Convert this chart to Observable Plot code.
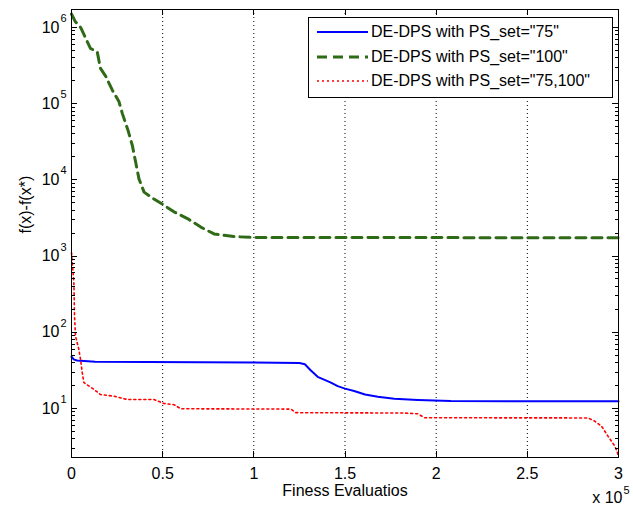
<!DOCTYPE html>
<html>
<head>
<meta charset="utf-8">
<script src="https://cdn.jsdelivr.net/npm/d3@7"></script>
<script src="https://cdn.jsdelivr.net/npm/@observablehq/plot@0.6"></script>
<style>
  html, body { margin: 0; padding: 0; background: #fff; }
</style>
</head>
<body>
<div id="chart"></div>
<script>
// ---- data ----
const seriesNames = ['DE-DPS with PS_set="75"', 'DE-DPS with PS_set="100"', 'DE-DPS with PS_set="75,100"'];

const evals75 = [0, 1200, 3000, 13000, 100000, 125000, 128000, 131000, 135000, 142000, 146000, 150000, 155000, 161000, 168000, 177000, 190000, 208000, 300000];
const f75     = [48, 44, 42.5, 41, 40, 39.5, 38, 32, 26, 22, 19.6, 18.2, 16.9, 15.2, 14.2, 13.4, 12.9, 12.5, 12.4];

const evals100 = [0, 2000, 5000, 10400, 14100, 15900, 18700, 22400, 26000, 27900, 31200, 33400, 35200, 37000, 39800, 45200, 49800, 56200, 63600, 70900, 78200, 89000, 100000, 300000];
const f100     = [1.5e6, 1.2e6, 1.0e6, 5.3e5, 4.8e5, 2.9e5, 2.3e5, 1.5e5, 1.07e5, 7.4e4, 4.3e4, 2.8e4, 1.7e4, 1.03e4, 6.9e3, 5.6e3, 4.8e3, 3.8e3, 3.1e3, 2.4e3, 1.95e3, 1.8e3, 1.75e3, 1.74e3];

const evals75100 = [0, 1300, 1650, 2200, 4000, 4950, 5900, 6800, 12300, 15900, 23200, 30600, 45200, 50700, 56200, 59900, 120300, 123000, 182600, 190000, 193600, 283300, 287000, 290700, 294300, 298000, 299500, 300000];
const f75100     = [1100, 450, 163, 89, 60, 44, 29.5, 21.8, 17.8, 15.2, 14.5, 13.1, 13.1, 11.6, 11.2, 9.9, 9.8, 8.8, 8.7, 8.5, 7.55, 7.5, 6.8, 5.85, 4.3, 3.2, 2.6, 2.3];

const xTicks = [0, 50000, 100000, 150000, 200000, 250000, 300000];
const yDomain = [2.27, 1.72e6];
const yMajor = [10, 100, 1000, 10000, 100000, 1000000];
const xLabel = "Finess Evaluatios";
const yLabel = "f(x)-f(x*)";
const xExpBase = "x 10";
const xExp = "5";

// ---- build tables ----
const toRows = (xs, ys) => xs.map((x, i) => ({x, y: ys[i]}));
const s75 = toRows(evals75, f75);
const s100 = toRows(evals100, f100);
const s75100 = toRows(evals75100, f75100);
const yMinor = d3.scaleLog().domain(yDomain).ticks().filter(v => !yMajor.includes(v));

const W = 633, H = 510, ML = 71, MR = 15, MT = 9, MB = 53;
const ink = "#000";
const colors = ["#0000ff", "#2f6b16", "#ff0000"];

const chart = Plot.plot({
  width: W,
  height: H,
  marginLeft: ML,
  marginRight: MR,
  marginTop: MT,
  marginBottom: MB,
  style: {background: "#fff", fontFamily: "'Liberation Sans', Arial, Helvetica, sans-serif", fontSize: "16px", color: "#000"},
  x: {domain: [0, 300000]},
  y: {type: "log", domain: yDomain, axis: null},
  marks: [
    // dotted vertical grid
    Plot.ruleX(xTicks, {stroke: ink, strokeDasharray: "1,3", strokeWidth: 1}),
    // series
    Plot.line(s100, {x: "x", y: "y", stroke: colors[1], strokeWidth: 3, strokeDasharray: "10,6"}),
    Plot.line(s75, {x: "x", y: "y", stroke: colors[0], strokeWidth: 2}),
    Plot.line(s75100, {x: "x", y: "y", stroke: colors[2], strokeWidth: 1.6, strokeDasharray: "2,3"}),
    // frame
    Plot.frame({stroke: ink, strokeWidth: 1}),
    // x axis labels
    Plot.axisX({ticks: xTicks, tickFormat: d => String(d / 1e5), tickSize: 0, tickPadding: 10, fontSize: 16, label: null}),
    // y axis labels 10^k
    Plot.text(yMajor, {y: d => d, text: () => "10", frameAnchor: "left", textAnchor: "end", dx: -12, fontSize: 16, fill: ink}),
    Plot.text(yMajor, {y: d => d, text: d => String(Math.round(Math.log10(d))), frameAnchor: "left", textAnchor: "start", dx: -11, dy: -9, fontSize: 11, fill: ink}),
    // axis titles
    Plot.text([xLabel], {text: d => d, frameAnchor: "bottom", dy: 38, fontSize: 16, fill: ink}),
    Plot.text([yLabel], {text: d => d, frameAnchor: "left", dx: -46, rotate: -90, fontSize: 16, fill: ink}),
    Plot.text([xExpBase], {text: d => d, frameAnchor: "bottom-right", textAnchor: "end", dx: 4, dy: 45, fontSize: 16, fill: ink}),
    Plot.text([xExp], {text: d => d, frameAnchor: "bottom-right", textAnchor: "start", dx: 5, dy: 36, fontSize: 11, fill: ink})
  ]
});

document.getElementById("chart").appendChild(chart);

const svgEl = chart.tagName.toLowerCase() === "svg" ? chart : chart.querySelector("svg");
const svgSel = d3.select(svgEl);
const sx = chart.scale("x"), sy = chart.scale("y");
const frameLeft = ML, frameRight = W - MR, frameTop = MT, frameBottom = H - MB;

// inward ticks on all four sides, placed through Plot's scales
const tg = svgSel.append("g").attr("stroke", ink).attr("stroke-width", 1).attr("shape-rendering", "crispEdges");
xTicks.forEach(v => {
  const px = Math.round(sx.apply(v)) + 0.5;
  tg.append("line").attr("x1", px).attr("x2", px).attr("y1", frameBottom).attr("y2", frameBottom - 6);
  tg.append("line").attr("x1", px).attr("x2", px).attr("y1", frameTop).attr("y2", frameTop + 6);
});
[[yMajor, 6], [yMinor, 3.5]].forEach(([vals, len]) => {
  vals.forEach(v => {
    const py = Math.round(sy.apply(v)) + 0.5;
    tg.append("line").attr("x1", frameLeft).attr("x2", frameLeft + len).attr("y1", py).attr("y2", py);
    tg.append("line").attr("x1", frameRight).attr("x2", frameRight - len).attr("y1", py).attr("y2", py);
  });
});

// legend box inside the axes (top right)
const lg = svgSel.append("g").attr("text-anchor", "start");
lg.append("rect").attr("x", 308.5).attr("y", 17.5).attr("width", 304).attr("height", 80)
  .attr("fill", "#fff").attr("stroke", ink).attr("stroke-width", 1);
const dashes = [null, "10,6", "2,3"];
const widths = [2, 3, 1.6];
const rowY = [32, 57, 81];
seriesNames.forEach((name, i) => {
  const line = lg.append("line").attr("x1", 317).attr("x2", 368).attr("y1", rowY[i]).attr("y2", rowY[i])
    .attr("stroke", colors[i]).attr("stroke-width", widths[i]);
  if (dashes[i]) line.attr("stroke-dasharray", dashes[i]);
  lg.append("text").attr("x", 371).attr("y", rowY[i]).attr("dy", "0.32em")
    .attr("text-anchor", "start").attr("font-size", 16).attr("fill", ink).text(name);
});
</script>
</body>
</html>
